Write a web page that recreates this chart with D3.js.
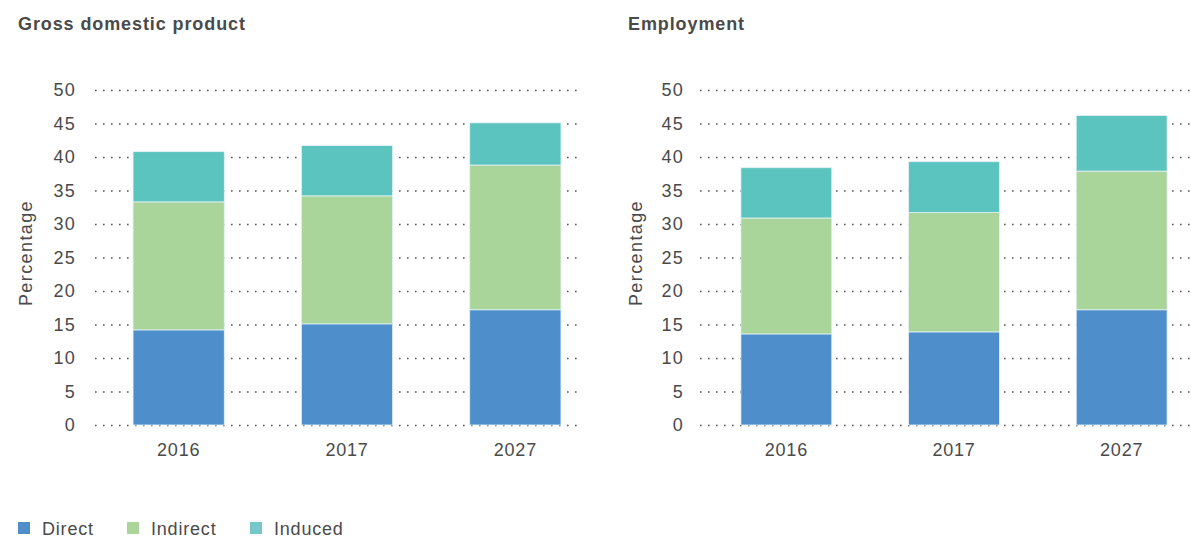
<!DOCTYPE html>
<html><head><meta charset="utf-8">
<script src="https://cdn.jsdelivr.net/npm/d3@7"></script>
<style>body{margin:0;background:#fff;} text{font-family:"Liberation Sans",Arial,sans-serif;}</style>
</head><body>
<svg id="c" width="1191" height="540"></svg>
<script>
const years = ["2016","2017","2027"];
const seriesNames = ["Direct","Indirect","Induced"];
const colors = ["#4e8fcb","#a9d59a","#5cc4bf"];
const legendColors = ["#4e8fcb","#a9d59a","#79c6c8"];
const yTicks = [0,5,10,15,20,25,30,35,40,45,50];
const gdpDirect = [14.2,15.1,17.2];
const gdpIndirect = [19.1,19.1,21.6];
const gdpInduced = [7.5,7.5,6.3];
const empDirect = [13.6,13.9,17.2];
const empIndirect = [17.3,17.8,20.7];
const empInduced = [7.5,7.6,8.3];
const titles = ["Gross domestic product","Employment"];
const yLabel = "Percentage";

const svg = d3.select("#c");
const txt = "#4a4a4a";
const y = d3.scaleLinear().domain([0,50]).range([425,90]);
const FF = "Liberation Sans, Arial, sans-serif";

function panel(cfg){
  const g = svg.append("g");
  const rows = years.map((yr,i)=>({year:yr, Direct:cfg.d[i], Indirect:cfg.ind[i], Induced:cfg.inc[i]}));
  const stack = d3.stack().keys(seriesNames)(rows);
  const x = d3.scaleBand().domain(years).range([cfg.x0, cfg.x1]).paddingInner(0.458).paddingOuter(cfg.po);
  // title
  g.append("text").attr("x",cfg.tx).attr("y",30).attr("fill",txt).attr("font-size",18).attr("font-weight","bold")
    .attr("letter-spacing",0.9).text(cfg.title);
  // grid
  const yAxis = d3.axisLeft(y).tickValues(yTicks).tickSize(-(cfg.gEnd-cfg.x0)).tickPadding(cfg.x0-cfg.labelX);
  const ag = g.append("g").attr("transform",`translate(${cfg.x0},0)`).call(yAxis);
  ag.select(".domain").remove();
  ag.selectAll(".tick line").attr("stroke","#555").attr("stroke-width",1.3).attr("stroke-dasharray","1.6,6.4");
  ag.selectAll(".tick text").attr("fill",txt).attr("font-size",18).attr("letter-spacing",1.2).attr("font-family",FF);
  // bars
  g.selectAll("g.s").data(stack).join("g").attr("fill",(d,i)=>colors[i])
    .selectAll("rect").data(d=>d).join("rect")
    .attr("x",d=>x(d.data.year)).attr("width",x.bandwidth())
    .attr("y",d=>y(d[1])).attr("height",d=>y(d[0])-y(d[1]))
    .attr("stroke","#e4f2f6").attr("stroke-width",0.8);
  // x axis labels
  const xa = d3.axisBottom(x).tickSize(0).tickPadding(0);
  const xg = g.append("g").attr("transform","translate(0,443)").call(xa);
  xg.select(".domain").remove();
  xg.selectAll(".tick text").attr("fill",txt).attr("font-size",18).attr("letter-spacing",0.8).attr("dy","0.72em").attr("font-family",FF);
  // y label
  g.append("text").attr("transform",`translate(${cfg.ylx},253) rotate(-90)`).attr("text-anchor","middle")
    .attr("fill",txt).attr("font-size",18).attr("letter-spacing",1.4).text(yLabel);
}

panel({title:titles[0], d:gdpDirect, ind:gdpIndirect, inc:gdpInduced, x0:95, x1:599, po:0.226, gEnd:583, labelX:76, tx:18, ylx:32});
panel({title:titles[1], d:empDirect, ind:empIndirect, inc:empInduced, x0:700, x1:1208, po:0.244, gEnd:1191, labelX:684, tx:628, ylx:642});

// legend
const lx = [18,127,250];
const lg = svg.append("g");
seriesNames.forEach((n,i)=>{
  lg.append("rect").attr("x",lx[i]).attr("y",522).attr("width",12).attr("height",12).attr("fill",legendColors[i]);
  lg.append("text").attr("x",lx[i]+24).attr("y",535).attr("fill",txt).attr("font-size",18).attr("letter-spacing",0.8).text(n);
});
</script>
</body></html>
